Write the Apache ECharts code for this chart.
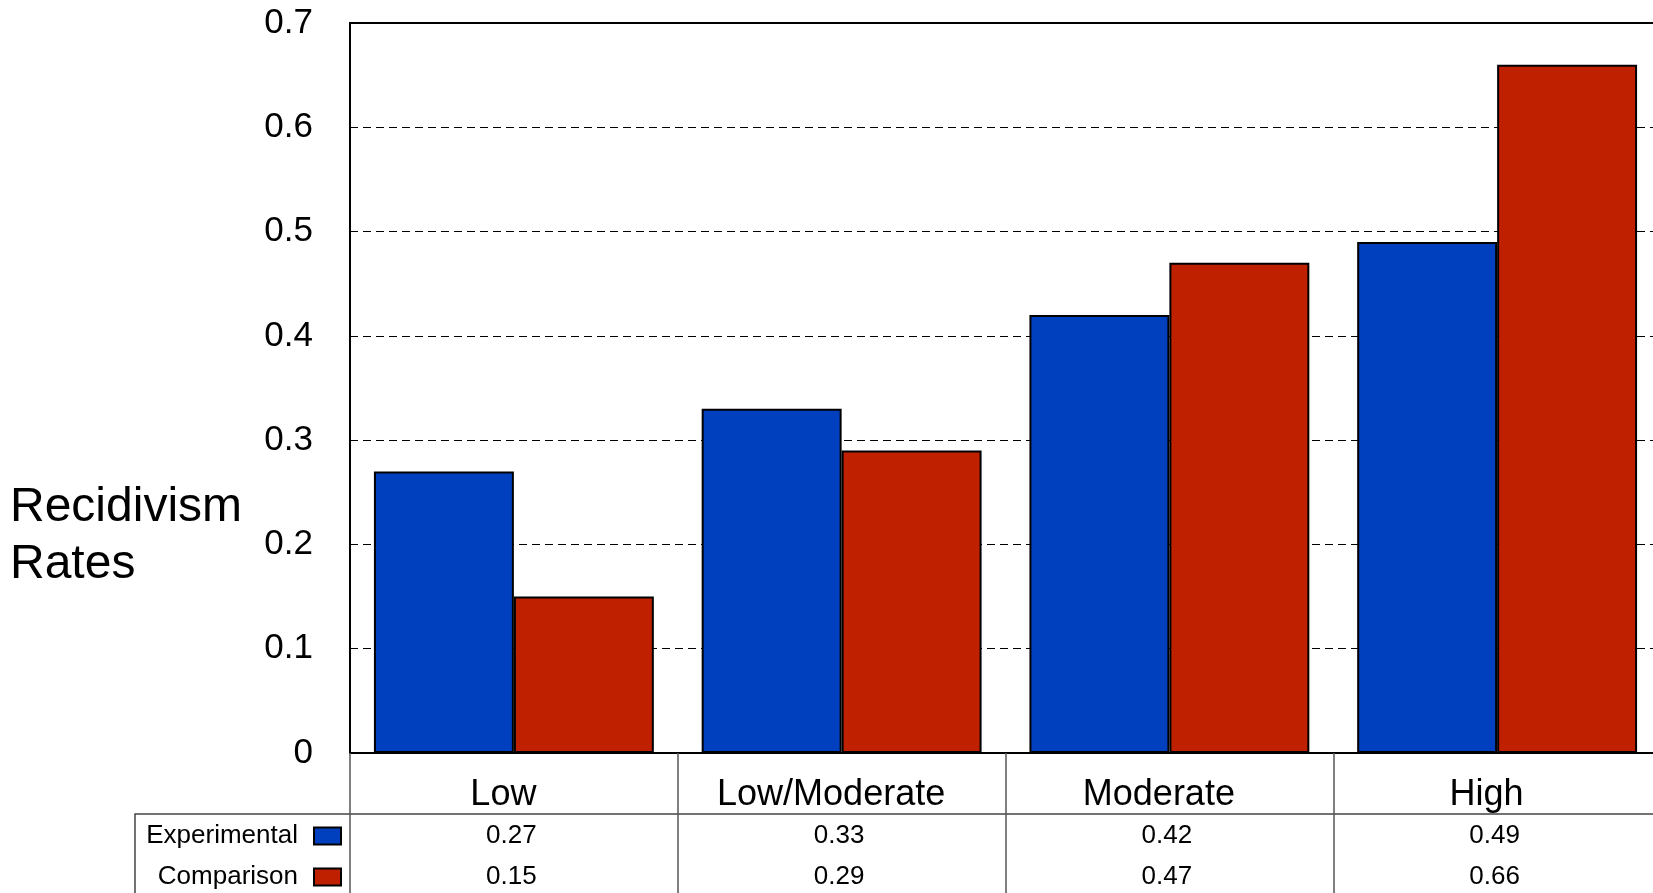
<!DOCTYPE html>
<html>
<head>
<meta charset="utf-8">
<script src="https://cdn.jsdelivr.net/npm/echarts@6/dist/echarts.min.js"></script>
<style>
html,body{margin:0;padding:0;background:#fff;}
#chart{width:1653px;height:893px;}
</style>
</head>
<body>
<div id="chart"></div>
<script>
const categories = ['Low', 'Low/Moderate', 'Moderate', 'High'];
const experimental = [0.27, 0.33, 0.42, 0.49];
const comparison = [0.15, 0.29, 0.47, 0.66];
const seriesNames = ['Experimental', 'Comparison'];
const yTicks = { min: 0, max: 0.7, interval: 0.1 };

const FONT = "'Liberation Sans', Arial, Helvetica, sans-serif";
const chart = echarts.init(document.getElementById('chart'), null, { renderer: 'canvas' });

const option = {
  backgroundColor: '#ffffff',
  animation: false,
  textStyle: { fontFamily: FONT, color: '#000' },
  title: {
    text: 'Recidivism\nRates',
    left: 10,
    top: 479,
    padding: 0,
    textStyle: { fontFamily: FONT, fontSize: 48, fontWeight: 'normal', color: '#000', lineHeight: 57 }
  },
  legend: {
    data: seriesNames,
    orient: 'vertical',
    align: 'right',
    right: 1311,
    top: 823,
    height: 200,
    padding: 0,
    itemWidth: 27,
    itemHeight: 17,
    itemGap: 15,
    icon: 'rect',
    textStyle: { fontFamily: FONT, fontSize: 26, lineHeight: 17, color: '#000', padding: [0, 11, 0, 0] }
  },
  grid: {
    left: 350,
    width: 1311,
    top: 23,
    bottom: 140,
    outerBoundsMode: 'none',
    show: true,
    borderColor: '#000',
    borderWidth: 2,
    backgroundColor: 'transparent',
    containLabel: false
  },
  xAxis: {
    type: 'category',
    data: categories,
    boundaryGap: true,
    axisLine: { show: true, lineStyle: { color: '#000', width: 2 } },
    axisTick: { show: true, interval: 0, alignWithLabel: false, length: 140, lineStyle: { color: '#555', width: 1.5 } },
    splitLine: { show: false },
    axisLabel: {
      interval: 0,
      margin: 23,
      formatter: function (value, index) {
        return '{c|' + value + '}\n{v|' + experimental[index].toFixed(2) + '}\n{v|' + comparison[index].toFixed(2) + '}';
      },
      rich: {
        c: { fontFamily: FONT, fontSize: 36, lineHeight: 39, color: '#000', padding: [0, 21, 0, 0] },
        v: { fontFamily: FONT, fontSize: 26, lineHeight: 41, color: '#000', padding: [0, 5, 0, 0] }
      }
    }
  },
  yAxis: {
    type: 'value',
    min: yTicks.min,
    max: yTicks.max,
    interval: yTicks.interval,
    axisLine: { show: true, lineStyle: { color: '#000', width: 2 } },
    axisTick: { show: false },
    axisLabel: {
      margin: 37,
      padding: [5, 0, 0, 0],
      fontFamily: FONT,
      fontSize: 35,
      color: '#000',
      formatter: function (v) { return v === 0 ? '0' : v.toFixed(1); }
    },
    splitLine: { show: true, lineStyle: { color: '#000', width: 1, type: [8, 5] } }
  },
  series: [
    {
      name: seriesNames[0],
      type: 'bar',
      data: experimental,
      barGap: '0%',
      barCategoryGap: '14.6%',
      itemStyle: { color: '#0040bf', borderColor: '#000', borderWidth: 2 }
    },
    {
      name: seriesNames[1],
      type: 'bar',
      data: comparison,
      barGap: '0%',
      barCategoryGap: '14.6%',
      itemStyle: { color: '#bf2000', borderColor: '#000', borderWidth: 2 }
    }
  ],
  graphic: [
    {
      type: 'polyline',
      silent: true,
      shape: { points: [[135, 893], [135, 814], [1653, 814]] },
      style: { stroke: '#444', lineWidth: 1.5, fill: null }
    }
  ]
};
chart.setOption(option);
</script>
</body>
</html>
